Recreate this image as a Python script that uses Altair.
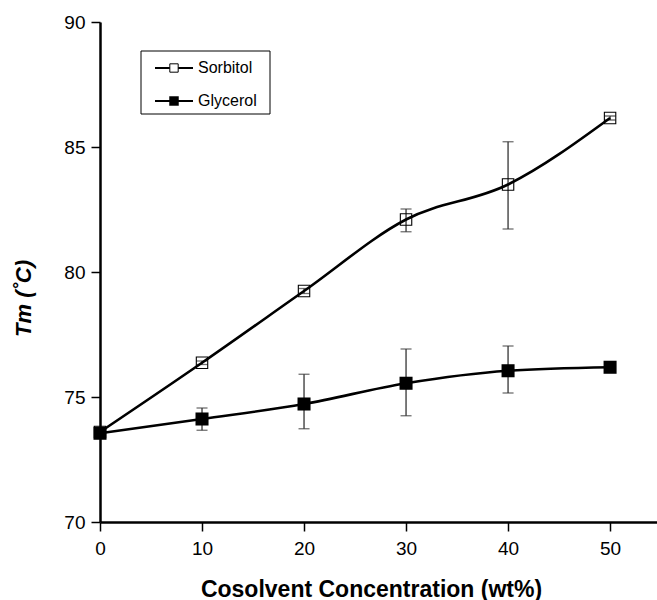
import altair as alt
import pandas as pd

conc = [0, 10, 20, 30, 40, 50]
sorbitol_tm = [73.6, 76.37, 79.24, 82.1, 83.5, 86.16]
sorbitol_lo = [73.6, 76.3, 79.14, 81.61, 81.72, 86.08]
sorbitol_hi = [73.6, 76.44, 79.34, 82.52, 85.21, 86.24]
glycerol_tm = [73.55, 74.12, 74.72, 75.55, 76.05, 76.19]
glycerol_lo = [73.55, 73.67, 73.73, 74.25, 75.16, 76.19]
glycerol_hi = [73.55, 74.56, 75.91, 76.92, 77.04, 76.19]
x_ticks = [0, 10, 20, 30, 40, 50]
y_ticks = [70, 75, 80, 85, 90]

rows = []
for i, c in enumerate(conc):
    rows.append({"conc": c, "series": "Sorbitol", "tm": sorbitol_tm[i],
                 "lo": sorbitol_lo[i], "hi": sorbitol_hi[i]})
    rows.append({"conc": c, "series": "Glycerol", "tm": glycerol_tm[i],
                 "lo": glycerol_lo[i], "hi": glycerol_hi[i]})
df = pd.DataFrame(rows)

FONT = "Liberation Sans"

xscale = alt.Scale(domain=[0, 54.6], nice=False, zero=False)
yscale = alt.Scale(domain=[70, 90], nice=False, zero=False)

xaxis = alt.Axis(values=x_ticks, title="Cosolvent Concentration (wt%)", grid=False,
                 domainColor="black", domainWidth=2.5, tickColor="black", tickWidth=1.5,
                 tickSize=9, labelPadding=8, labelFontSize=19, labelColor="black",
                 labelFont=FONT, labelFlush=False, titleFont=FONT, titleFontSize=23,
                 titleFontWeight="bold", titleColor="black", titleY=74,
                 titleBaseline="alphabetic", titleX=271)
yaxis = alt.Axis(values=y_ticks, title="Tm (˚C)", grid=False,
                 domainColor="black", domainWidth=2.5, tickColor="black", tickWidth=1.5,
                 tickSize=9, labelPadding=6, labelFontSize=19, labelColor="black",
                 labelFont=FONT, labelFlush=False, titleFont=FONT, titleFontSize=22,
                 titleFontWeight="bold", titleFontStyle="italic", titleColor="black",
                 titleAngle=-90, titleX=-77, titleY=276, titleAlign="center",
                 titleBaseline="middle")

base = alt.Chart(df)

err = base.transform_filter("datum.hi > datum.lo + 0.05").mark_rule(
    color="#333333", strokeWidth=1.3).encode(
    x=alt.X("conc:Q", scale=xscale, axis=xaxis),
    y=alt.Y("lo:Q", scale=yscale, axis=yaxis),
    y2="hi:Q")
caps_lo = base.transform_filter("datum.hi > datum.lo + 0.05").mark_tick(
    color="#333333", thickness=1.3, size=11, orient="horizontal").encode(
    x=alt.X("conc:Q", scale=xscale), y=alt.Y("lo:Q", scale=yscale))
caps_hi = base.transform_filter("datum.hi > datum.lo + 0.05").mark_tick(
    color="#333333", thickness=1.3, size=11, orient="horizontal").encode(
    x=alt.X("conc:Q", scale=xscale), y=alt.Y("hi:Q", scale=yscale))

lines = base.mark_line(color="black", strokeWidth=2.6, interpolate="monotone").encode(
    x=alt.X("conc:Q", scale=xscale),
    y=alt.Y("tm:Q", scale=yscale),
    detail="series:N")

pts_s = base.transform_filter("datum.series == 'Sorbitol'").mark_point(
    shape="square", size=130, filled=False, stroke="black", strokeWidth=1.1,
    opacity=1).encode(x=alt.X("conc:Q", scale=xscale), y=alt.Y("tm:Q", scale=yscale))
pts_g = base.transform_filter("datum.series == 'Glycerol'").mark_square(
    size=170, color="black", opacity=1).encode(
    x=alt.X("conc:Q", scale=xscale), y=alt.Y("tm:Q", scale=yscale))

# legend
leg_names = ["Sorbitol", "Glycerol"]
one = alt.Chart(pd.DataFrame({"a": [0]}))
leg_box = one.mark_rect(fill="white", stroke="black", strokeWidth=1).encode(
    x=alt.value(41), x2=alt.value(170), y=alt.value(29), y2=alt.value(92))
leg_layers = [leg_box]
for name, yy, filled in [(leg_names[0], 46, False), (leg_names[1], 79, True)]:
    d = alt.Chart(pd.DataFrame({"name": [name]}))
    leg_layers.append(d.mark_rule(color="black", strokeWidth=2.2).encode(
        x=alt.value(55), x2=alt.value(93), y=alt.value(yy)))
    if filled:
        leg_layers.append(d.mark_square(size=90, color="black", opacity=1).encode(
            x=alt.value(74), y=alt.value(yy)))
    else:
        leg_layers.append(d.mark_point(shape="square", size=70, filled=True,
                                       fill="white", stroke="black", strokeWidth=1,
                                       opacity=1).encode(x=alt.value(74), y=alt.value(yy)))
    leg_layers.append(d.mark_text(align="left", baseline="middle", font=FONT,
                                  fontSize=16, color="black").encode(
        x=alt.value(98), y=alt.value(yy), text="name:N"))

chart = alt.layer(err, caps_lo, caps_hi, lines, pts_s, pts_g, *leg_layers).properties(
    width=557, height=500,
    autosize=alt.AutoSizeParams(type="none"),
    padding={"left": 100, "top": 22, "right": 0, "bottom": 78},
    background="white",
).configure_view(stroke=None)

chart.save("out.html", embed_options={"renderer": "svg", "actions": False})
